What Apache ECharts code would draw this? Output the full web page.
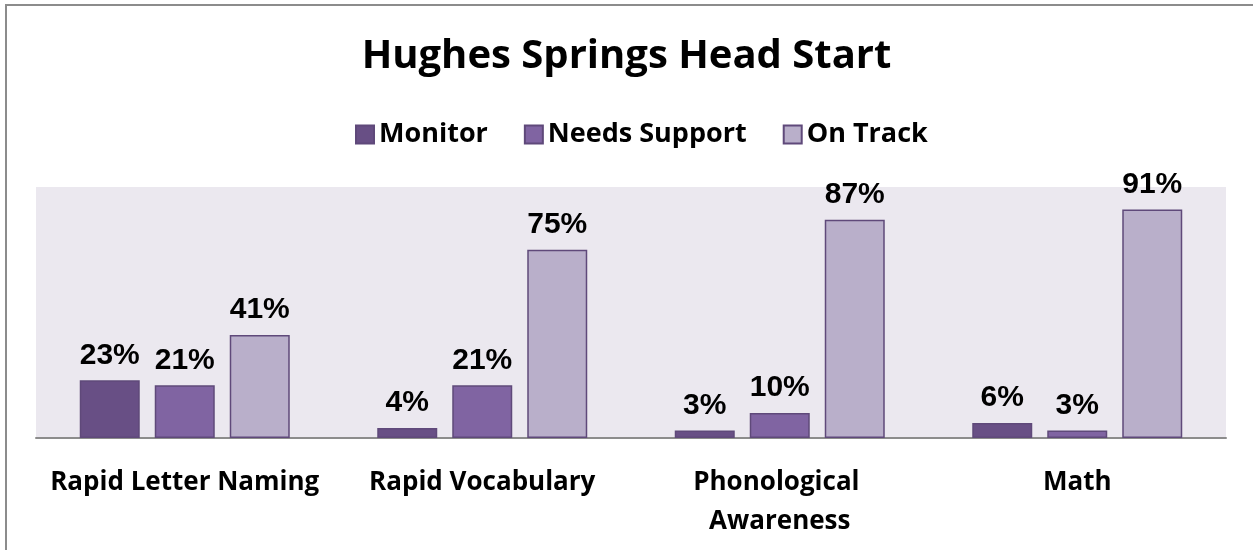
<!DOCTYPE html>
<html>
<head>
<meta charset="utf-8">
<script src="https://cdn.jsdelivr.net/npm/echarts@6/dist/echarts.min.js"></script>
<style>
  html, body { margin: 0; padding: 0; background: #fff; }
  #chart { width: 1253px; height: 550px; }
</style>
</head>
<body>
<div id="chart"></div>
<script>
// values (percent)
const categories = ['Rapid Letter Naming', 'Rapid Vocabulary', 'Phonological Awareness', 'Math'];
const monitor = [23, 4, 3, 6];
const needsSupport = [21, 21, 10, 3];
const onTrack = [41, 75, 87, 91];

const chart = echarts.init(document.getElementById('chart'));

const textFont = '"Open Sans", Lato, sans-serif';

const labelStyle = {
    show: true,
    position: 'top',
    distance: 10,
    formatter: '{c}%',
    fontFamily: '"Liberation Sans", Arial, sans-serif',
    fontWeight: 'bold',
    fontSize: 30,
    color: '#000'
};

function barSeries(name, data, color) {
    return {
        name: name,
        type: 'bar',
        data: data,
        barWidth: 60,
        barGap: '25%',
        itemStyle: { color: color, borderColor: '#5f497a', borderWidth: 1.5 },
        label: labelStyle
    };
}

chart.setOption({
    backgroundColor: '#fff',
    title: {
        text: 'Hughes Springs Head Start',
        left: 'center',
        top: 32,
        textStyle: { fontFamily: textFont, fontWeight: 'bold', fontSize: 40, color: '#000' }
    },
    legend: {
        top: 116,
        left: 350,
        icon: 'rect',
        itemWidth: 18,
        itemHeight: 18,
        itemGap: 36,
        textStyle: { fontFamily: textFont, fontWeight: 'bold', fontSize: 27, color: '#000' },
        data: ['Monitor', 'Needs Support', 'On Track']
    },
    graphic: [{
        type: 'rect',
        shape: { x: 6, y: 5, width: 1400, height: 700 },
        style: { fill: 'none', stroke: '#8c8c8c', lineWidth: 2 },
        silent: true
    }],
    grid: {
        left: 36,
        right: 27,
        top: 187,
        bottom: 112,
        show: true,
        backgroundColor: '#ebe8ef',
        borderWidth: 0
    },
    xAxis: {
        type: 'category',
        data: categories,
        axisTick: { show: false },
        axisLine: { lineStyle: { color: '#8c8c8c', width: 2 } },
        axisLabel: {
            interval: 0,
            margin: 25,
            width: 290,
            overflow: 'break',
            lineHeight: 39,
            fontFamily: textFont,
            fontWeight: 'bold',
            fontSize: 26,
            color: '#000'
        }
    },
    yAxis: {
        type: 'value',
        min: 0,
        max: 100,
        show: false,
        splitLine: { show: false }
    },
    series: [
        barSeries('Monitor', monitor, '#684f85'),
        barSeries('Needs Support', needsSupport, '#8064a2'),
        barSeries('On Track', onTrack, '#b9afca')
    ]
});
</script>
</body>
</html>
